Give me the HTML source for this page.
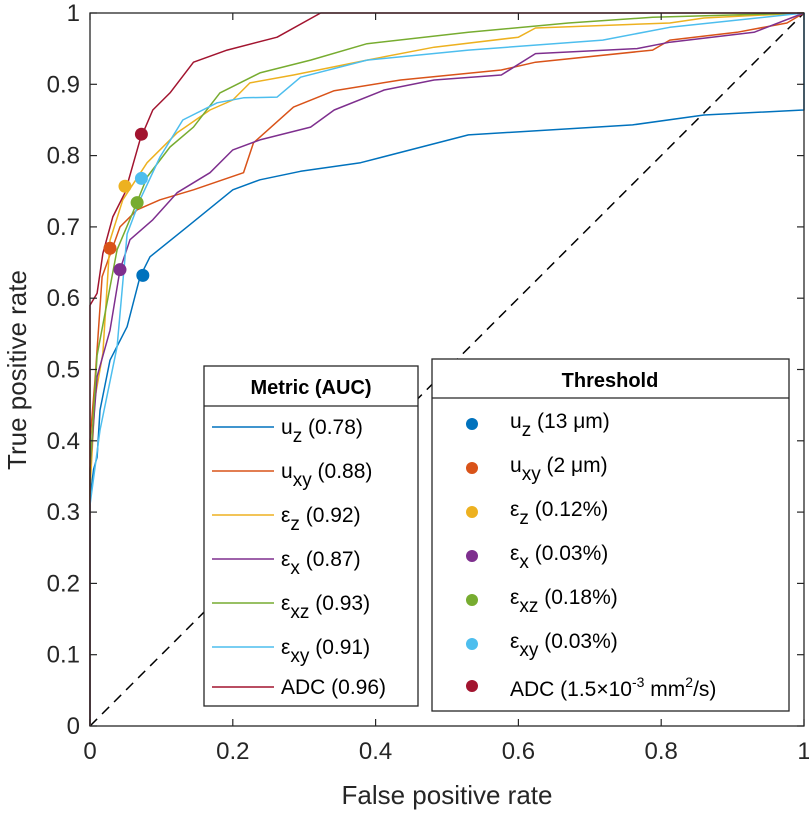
<!DOCTYPE html>
<html><head><meta charset="utf-8"><style>
html,body{margin:0;padding:0;background:#fff;}
svg{display:block;font-family:"Liberation Sans",Arial,sans-serif;}
</style></head><body>
<svg id="chart" width="809" height="813" viewBox="0 0 809 813">
<rect x="0" y="0" width="809" height="813" fill="#fff"/>
<g id="plot"></g>
<g id="axes"></g>
<g id="legend1"></g>
<g id="legend2"></g>
</svg>
<script>
const seriesNames = ["uz","uxy","ez","ex","exz","exy","adc"];
const seriesColors = ["#0072BD","#D95319","#EDB120","#7E2F8E","#77AC30","#4DBEEE","#A2142F"];
const fprUz = [0,0,0.005,0.01,0.014,0.028,0.052,0.07,0.084,0.136,0.2,0.238,0.295,0.379,0.53,0.76,0.86,0.999,1,1];
const tprUz = [0,0.32,0.36,0.377,0.443,0.513,0.56,0.63,0.658,0.70,0.752,0.766,0.778,0.79,0.829,0.843,0.857,0.864,0.864,1];
const fprUxy = [0,0,0.007,0.017,0.042,0.066,0.098,0.145,0.215,0.229,0.285,0.342,0.435,0.576,0.624,0.788,0.812,0.906,0.976,1];
const tprUxy = [0,0.40,0.485,0.63,0.70,0.724,0.738,0.752,0.776,0.818,0.868,0.891,0.906,0.92,0.931,0.948,0.962,0.973,0.986,1];
const fprEz = [0,0,0.007,0.018,0.028,0.046,0.08,0.122,0.168,0.2,0.224,0.285,0.388,0.482,0.6,0.624,0.812,0.86,1];
const tprEz = [0,0.33,0.46,0.523,0.681,0.738,0.79,0.832,0.864,0.878,0.902,0.913,0.934,0.952,0.966,0.979,0.986,0.993,1];
const fprEx = [0,0,0.01,0.028,0.042,0.056,0.088,0.122,0.168,0.2,0.238,0.309,0.342,0.412,0.482,0.576,0.624,0.766,0.812,0.93,1];
const tprEx = [0,0.36,0.49,0.555,0.64,0.682,0.71,0.748,0.776,0.808,0.822,0.84,0.864,0.892,0.906,0.913,0.943,0.95,0.959,0.973,1];
const fprExz = [0,0,0.01,0.038,0.06,0.08,0.112,0.145,0.182,0.238,0.309,0.388,0.53,0.67,0.788,1];
const tprExz = [0,0.36,0.52,0.668,0.72,0.77,0.812,0.84,0.888,0.916,0.934,0.957,0.973,0.986,0.994,1];
const fprExy = [0,0,0.014,0.038,0.052,0.07,0.098,0.13,0.178,0.215,0.262,0.295,0.388,0.53,0.718,0.812,1];
const tprExy = [0,0.31,0.415,0.532,0.69,0.738,0.798,0.85,0.874,0.881,0.882,0.91,0.934,0.948,0.962,0.98,1];
const fprAdc = [0,0,0.01,0.018,0.032,0.049,0.07,0.088,0.112,0.145,0.192,0.262,0.323,1];
const tprAdc = [0,0.59,0.607,0.663,0.714,0.748,0.822,0.864,0.888,0.931,0.948,0.966,1,1];
const thrFpr = [0.074,0.028,0.049,0.042,0.066,0.072,0.072];
const thrTpr = [0.632,0.670,0.757,0.640,0.734,0.768,0.830];
const metricLabels = [["u","z"," (0.78)"],["u","xy"," (0.88)"],["\u03B5","z"," (0.92)"],["\u03B5","x"," (0.87)"],["\u03B5","xz"," (0.93)"],["\u03B5","xy"," (0.91)"],["ADC","", " (0.96)"]];
const thrLabels = [["u","z"," (13 \u03BCm)"],["u","xy"," (2 \u03BCm)"],["\u03B5","z"," (0.12%)"],["\u03B5","x"," (0.03%)"],["\u03B5","xz"," (0.18%)"],["\u03B5","xy"," (0.03%)"],["ADC","",""]];
const xTicks = [0,0.2,0.4,0.6,0.8,1];
const xTickLabels = ["0","0.2","0.4","0.6","0.8","1"];
const yTicks = [0,0.1,0.2,0.3,0.4,0.5,0.6,0.7,0.8,0.9,1];
const yTickLabels = ["0","0.1","0.2","0.3","0.4","0.5","0.6","0.7","0.8","0.9","1"];

const X0=90,X1=804,Y0=726,Y1=13;
const sx=v=>X0+v*(X1-X0);
const sy=v=>Y0-v*(Y0-Y1);
const NS="http://www.w3.org/2000/svg";
function mk(tag,attrs,parent){const e=document.createElementNS(NS,tag);for(const k in attrs)e.setAttribute(k,attrs[k]);parent.appendChild(e);return e;}
const plot=document.getElementById('plot'),axes=document.getElementById('axes');
const allF=[fprUz,fprUxy,fprEz,fprEx,fprExz,fprExy,fprAdc];
const allT=[tprUz,tprUxy,tprEz,tprEx,tprExz,tprExy,tprAdc];

const diag=mk('line',{x1:sx(0),y1:sy(0),x2:sx(1),y2:sy(1),stroke:'#000','stroke-width':1.5,'stroke-dasharray':'10,7'},plot);



for(let s=0;s<7;s++){
  const f=allF[s],t=allT[s];
  let d='M'+sx(f[0]).toFixed(1)+','+sy(t[0]).toFixed(1);
  for(let i=1;i<f.length;i++){d+=' L'+sx(f[i]).toFixed(1)+','+sy(t[i]).toFixed(1);}
  const p=mk('path',{d:d,fill:'none',stroke:seriesColors[s],'stroke-width':1.5,'stroke-linejoin':'round'},plot);
  
  
}
for(let s=0;s<7;s++){
  const c=mk('circle',{cx:sx(thrFpr[s]),cy:sy(thrTpr[s]),r:6.5,fill:seriesColors[s]},plot);
  
  
}
const box=mk('rect',{x:X0,y:Y1,width:X1-X0,height:Y0-Y1,fill:'none',stroke:'#262626','stroke-width':1.3},axes);


xTicks.forEach((v,i)=>{
  mk('line',{x1:sx(v),y1:Y0,x2:sx(v),y2:Y0-7,stroke:'#262626','stroke-width':1.2},axes);
  mk('line',{x1:sx(v),y1:Y1,x2:sx(v),y2:Y1+7,stroke:'#262626','stroke-width':1.2},axes);
  const t=mk('text',{x:sx(v),y:759,'text-anchor':'middle','font-size':24,fill:'#262626'},axes);
  t.textContent=xTickLabels[i];
  
  
});
yTicks.forEach((v,i)=>{
  mk('line',{x1:X0,y1:sy(v),x2:X0+7,y2:sy(v),stroke:'#262626','stroke-width':1.2},axes);
  mk('line',{x1:X1,y1:sy(v),x2:X1-7,y2:sy(v),stroke:'#262626','stroke-width':1.2},axes);
  const t=mk('text',{x:80,y:sy(v)+8,'text-anchor':'end','font-size':24,fill:'#262626'},axes);
  t.textContent=yTickLabels[i];
  
  
});
const xl=mk('text',{x:447,y:804,'text-anchor':'middle','font-size':26,fill:'#262626'},axes);
xl.textContent='False positive rate';


const yl=mk('text',{x:0,y:0,'text-anchor':'middle','font-size':26,fill:'#262626',transform:'translate(26,370) rotate(-90)'},axes);
yl.textContent='True positive rate';



function label(parent,x,y,parts){
  const t=mk('text',{x:x,y:y,'font-size':21,fill:'#000'},parent);
  const a=mk('tspan',{},t);a.textContent=parts[0];
  if(parts[1]){const b=mk('tspan',{dy:8,'font-size':19},t);b.textContent=parts[1];const c=mk('tspan',{dy:-8},t);c.textContent=parts[2];}
  else{const c=mk('tspan',{},t);c.textContent=parts[2];}
  return t;
}
const L1=document.getElementById('legend1');
mk('rect',{x:204,y:366,width:214,height:340,fill:'#fff',stroke:'#262626','stroke-width':1.3},L1);
mk('line',{x1:204,y1:406,x2:418,y2:406,stroke:'#262626','stroke-width':1.3},L1);
const h1=mk('text',{x:311,y:394,'text-anchor':'middle','font-size':20,'font-weight':'bold'},L1);h1.textContent='Metric (AUC)';


const rowY=[427,471,515,559,603,647,687];
for(let s=0;s<7;s++){
  const ln=mk('line',{x1:212,y1:rowY[s],x2:274,y2:rowY[s],stroke:seriesColors[s],'stroke-width':1.5},L1);
  
  
  const t=label(L1,281,rowY[s]+7,metricLabels[s]);
  
  
}
const L2=document.getElementById('legend2');
mk('rect',{x:432,y:359,width:357,height:352,fill:'#fff',stroke:'#262626','stroke-width':1.3},L2);
mk('line',{x1:432,y1:398,x2:789,y2:398,stroke:'#262626','stroke-width':1.3},L2);
const h2=mk('text',{x:610,y:387,'text-anchor':'middle','font-size':20,'font-weight':'bold'},L2);h2.textContent='Threshold';


const rowY2=[424,468,512,556,600,644,686];
for(let s=0;s<7;s++){
  const c=mk('circle',{cx:472,cy:rowY2[s],r:6,fill:seriesColors[s]},L2);
  
  
  let t;
  if(s<6){t=label(L2,510,rowY2[s]+4,thrLabels[s]);}
  else{
    t=mk('text',{x:510,y:rowY2[s]+10,'font-size':21,fill:'#000'},L2);
    t.innerHTML='ADC (1.5\u00D710<tspan dy="-9" font-size="14">-3</tspan><tspan dy="9"> mm</tspan><tspan dy="-9" font-size="14">2</tspan><tspan dy="9">/s)</tspan>';
  }
  
  
}
</script>
</body></html>
